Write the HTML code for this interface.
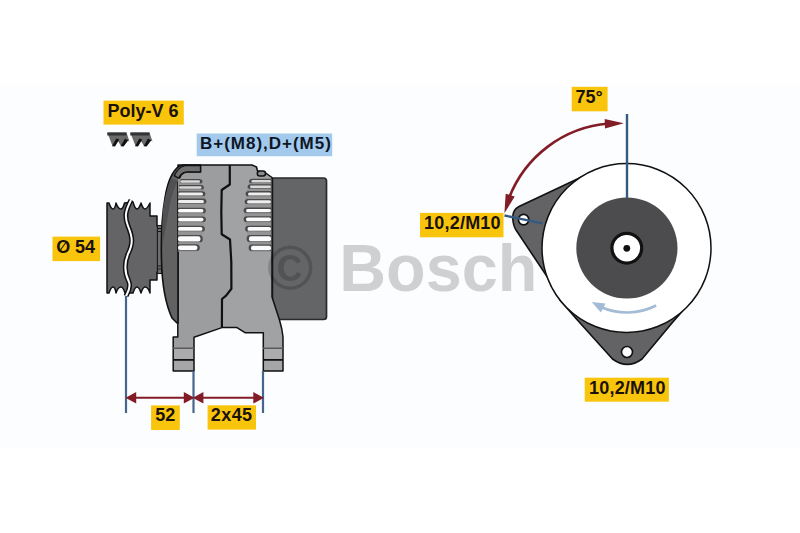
<!DOCTYPE html>
<html><head><meta charset="utf-8">
<style>
html,body{margin:0;padding:0;background:#fff;}
body{width:800px;height:533px;overflow:hidden;position:relative;}
svg{position:absolute;left:0;top:0;display:block;}
text{font-family:"Liberation Sans",sans-serif;font-weight:bold;}
</style></head>
<body>
<svg width="800" height="533" viewBox="0 0 800 533">
<rect x="0" y="0" width="800" height="533" fill="#ffffff"/>
<rect x="0" y="85" width="800" height="363" fill="#fcfdfe"/>

<!-- ===== LEFT VIEW ===== -->
<!-- pulley -->
<path d="M107,203 L109,203 Q111,209 113,209 Q115,209 116,203 Q118,209 121,209 Q123,209 124.5,203 L133,202 Q135,209 137,209 Q139,209 141,203 Q143,209 145,209 Q147,209 150,203 L150,216 L157,216 L157,226 L161,226 L161,272 L157,272 L157,280 L150,280 L150,293 Q148,287 145,287 Q143,287 141,293 Q139,287 137,287 Q135,287 133,293 L125,293 Q123,287 121,287 Q118,287 116,293 Q115,287 113,287 Q111,287 109,293 L107,293 Z" fill="#646466" stroke="#111" stroke-width="1.5" stroke-linejoin="round"/>
<path d="M131,200 C126,210 124,216 128,226 C133,238 133,244 128,254 C124,264 124,272 129,282 C131,288 128,292 126,296" fill="none" stroke="#111" stroke-width="5"/>
<path d="M131,200 C126,210 124,216 128,226 C133,238 133,244 128,254 C124,264 124,272 129,282 C131,288 128,292 126,296" fill="none" stroke="#fff" stroke-width="2"/>

<rect x="157.4" y="225.5" width="4.4" height="48" fill="#6e6e70" stroke="#1a1a1a" stroke-width="1.1"/>
<path d="M157.4,228.5 L161.8,228.5 M157.4,231.5 L161.8,231.5 M157.4,266 L161.8,266 M157.4,269 L161.8,269" stroke="#1a1a1a" stroke-width="1.2"/>
<!-- rear cover -->
<path d="M272.5,178 L323.5,178 Q326.5,178 326.5,181 L326.5,316.5 Q326.5,319.5 323.5,319.5 L272.5,319.5 Z" fill="#646567" stroke="#2a2a2a" stroke-width="1.7"/>


<!-- main body -->
<path d="M178,165 L252,165 L256.5,167 L257.5,171 L265,172.5 L272,177.5 L272,297 L279.5,320 L281.8,329 L283,337 L283,371 L263.3,371 L263.3,332.7 L245,332.7 L237,327.6 L221.9,327.6 L194,337.3 L194,371 L173.2,371 L173.2,337 L177.8,337 L177.8,323 Z" fill="#9c9d9f"/>
<path d="M229.8,165 L252,165 L256.5,167 L257.5,171 L265,172.5 L272,177.5 L272,297 L279.5,320 L281.8,329 L283,337 L283,371 L263.3,371 L263.3,332.7 L245,332.7 L237,327.6 L221.9,327.6 L222,299 L226.1,295.6 L231.4,288.8 L231.3,262 L230,239.5 L221.7,234.3 L221.3,212 L221.7,190 L229.8,184.5 Z" fill="#a1a2a4"/>
<path d="M173.2,349 h20.8 v10.5 h-20.8 Z M263.3,349 h19.7 v10.5 h-19.7 Z" fill="#acacae"/>
<path d="M173.2,360.5 h20.8 v10 h-20.8 Z M263.3,360.5 h19.7 v10 h-19.7 Z" fill="#a6a6a8"/>
<path d="M178,165 L252,165 L256.5,167 L257.5,171 L265,172.5 L272,177.5 L272,297 L279.5,320 L281.8,329 L283,337 L283,371 L263.3,371 L263.3,332.7 L245,332.7 L237,327.6 L221.9,327.6 L194,337.3 L194,371 L173.2,371 L173.2,337 L177.8,337 L177.8,323 Z" fill="none" stroke="#111" stroke-width="1.5" stroke-linejoin="round"/>
<!-- front housing -->
<path d="M183,165 C175,166 168,178 165,198 C162,215 161,240 161.5,260 C162,285 166,305 172,318 L177,323 L178,323 L178,183 C179.5,176 183,172 187,172 L200.5,172 L200.5,165 Z" fill="#626263" stroke="#111" stroke-width="1.6" stroke-linejoin="round"/>
<path d="M171,178.5 C168,186 164.5,198 163,210 C162.2,222 162,235 162.3,246 C164,236 166.5,224 168.5,212 C170.5,200 173.5,189 177.5,181 Z" fill="#505052"/>
<path d="M185,165.6 L200.5,165.6 L200.5,171.9 L187,171.9 C183.5,171.9 180.5,174.2 178.6,178.2 L174.3,175.6 C177,169.6 181,166.4 185,165.6 Z" fill="#6f6f70" stroke="#111" stroke-width="1.3" stroke-linejoin="round"/>
<path d="M178.0,178.8 L201.5,179.5 L203.0,185.5 L204.5,192.0 L205.5,199.5 L205.0,208.8 L205.0,217.6 L204.0,226.9 L201.9,236.9 L198.9,245.8 L198.9,251.2 L178.0,251.2 Z" fill="#949496"/>
<path d="M271.3,178.8 L250.0,179.3 L248.5,184.8 L246.5,191.9 L245.5,199.8 L244.5,208.6 L244.5,217.4 L246.0,226.9 L247.5,236.7 L249.5,246.0 L249.5,251.5 L271.3,251.5 Z" fill="#949496"/>
<path d="M180.5,179.0 L199,179.0 Q202.4,179.0 202.4,181.5 Q202.4,183.6 199,183.6 L180.5,183.6 Z" fill="#4a4a4a"/>
<rect x="180.5" y="180.30" width="19.5" height="2.4" rx="1.2" fill="#d8d8d8"/>
<rect x="180.5" y="183.10" width="19.5" height="1" fill="#8f8f8f"/>
<path d="M179,184.89999999999998 L200.5,184.89999999999998 Q203.9,184.89999999999998 203.9,187.5 Q203.9,189.70000000000002 200.5,189.70000000000002 L179,189.70000000000002 Z" fill="#4a4a4a"/>
<rect x="179" y="186.20" width="22.5" height="2.6" rx="1.3" fill="#d8d8d8"/>
<rect x="179" y="189.20" width="22.5" height="1" fill="#8f8f8f"/>
<path d="M178.5,191.2 L202,191.2 Q205.4,191.2 205.4,194.0 Q205.4,196.4 202,196.4 L178.5,196.4 Z" fill="#4a4a4a"/>
<rect x="178.5" y="192.50" width="24.5" height="3.0" rx="1.5" fill="#eeeeee"/>
<rect x="178.5" y="195.90" width="24.5" height="1" fill="#8f8f8f"/>
<path d="M178,198.6 L203,198.6 Q206.4,198.6 206.4,201.5 Q206.4,204.0 203,204.0 L178,204.0 Z" fill="#4a4a4a"/>
<rect x="178" y="199.90" width="26" height="3.2" rx="1.6" fill="#eeeeee"/>
<rect x="178" y="203.50" width="26" height="1" fill="#8f8f8f"/>
<path d="M178,207.8 L202.5,207.8 Q205.9,207.8 205.9,210.8 Q205.9,213.4 202.5,213.4 L178,213.4 Z" fill="#4a4a4a"/>
<rect x="178" y="209.10" width="25.5" height="3.4" rx="1.7" fill="#fcfcfc"/>
<rect x="178" y="212.90" width="25.5" height="1" fill="#8f8f8f"/>
<path d="M178,216.49999999999997 L202.5,216.49999999999997 Q205.9,216.49999999999997 205.9,219.6 Q205.9,222.3 202.5,222.3 L178,222.3 Z" fill="#4a4a4a"/>
<rect x="178" y="217.80" width="25.5" height="3.6" rx="1.8" fill="#fcfcfc"/>
<rect x="178" y="221.80" width="25.5" height="1" fill="#8f8f8f"/>
<path d="M178,225.7 L201.5,225.7 Q204.9,225.7 204.9,228.9 Q204.9,231.70000000000002 201.5,231.70000000000002 L178,231.70000000000002 Z" fill="#4a4a4a"/>
<rect x="178" y="227.00" width="24.5" height="3.8" rx="1.9" fill="#fcfcfc"/>
<rect x="178" y="231.20" width="24.5" height="1" fill="#8f8f8f"/>
<path d="M178,235.0 L199.4,235.0 Q202.8,235.0 202.8,238.9 Q202.8,242.4 199.4,242.4 L178,242.4 Z" fill="#4a4a4a"/>
<rect x="178" y="236.30" width="22.400000000000006" height="5.2" rx="2" fill="#fcfcfc"/>
<rect x="178" y="241.90" width="22.400000000000006" height="1" fill="#8f8f8f"/>
<path d="M178,244.2 L196.4,244.2 Q199.8,244.2 199.8,247.8 Q199.8,251.00000000000003 196.4,251.00000000000003 L178,251.00000000000003 Z" fill="#4a4a4a"/>
<rect x="178" y="245.50" width="19.400000000000006" height="4.6" rx="2" fill="#fcfcfc"/>
<rect x="178" y="250.50" width="19.400000000000006" height="1" fill="#8f8f8f"/>
<path d="M271,178.8 L252.5,178.8 Q249.1,178.8 249.1,181.3 Q249.1,183.4 252.5,183.4 L271,183.4 Z" fill="#4a4a4a"/>
<rect x="251.5" y="180.10" width="19.5" height="2.4" rx="1.2" fill="#d8d8d8"/>
<rect x="251.5" y="182.90" width="19.5" height="1" fill="#8f8f8f"/>
<path d="M271,184.2 L251,184.2 Q247.6,184.2 247.6,186.8 Q247.6,189.00000000000003 251,189.00000000000003 L271,189.00000000000003 Z" fill="#4a4a4a"/>
<rect x="250" y="185.50" width="21" height="2.6" rx="1.3" fill="#d8d8d8"/>
<rect x="250" y="188.50" width="21" height="1" fill="#8f8f8f"/>
<path d="M271,191.1 L249,191.1 Q245.6,191.1 245.6,193.9 Q245.6,196.3 249,196.3 L271,196.3 Z" fill="#4a4a4a"/>
<rect x="248" y="192.40" width="23" height="3.0" rx="1.5" fill="#eeeeee"/>
<rect x="248" y="195.80" width="23" height="1" fill="#8f8f8f"/>
<path d="M271,198.9 L248,198.9 Q244.6,198.9 244.6,201.8 Q244.6,204.3 248,204.3 L271,204.3 Z" fill="#4a4a4a"/>
<rect x="247" y="200.20" width="24" height="3.2" rx="1.6" fill="#eeeeee"/>
<rect x="247" y="203.80" width="24" height="1" fill="#8f8f8f"/>
<path d="M271,207.6 L247,207.6 Q243.6,207.6 243.6,210.6 Q243.6,213.2 247,213.2 L271,213.2 Z" fill="#4a4a4a"/>
<rect x="246" y="208.90" width="25" height="3.4" rx="1.7" fill="#fcfcfc"/>
<rect x="246" y="212.70" width="25" height="1" fill="#8f8f8f"/>
<path d="M271,216.29999999999998 L247,216.29999999999998 Q243.6,216.29999999999998 243.6,219.4 Q243.6,222.10000000000002 247,222.10000000000002 L271,222.10000000000002 Z" fill="#4a4a4a"/>
<rect x="246" y="217.60" width="25" height="3.6" rx="1.8" fill="#fcfcfc"/>
<rect x="246" y="221.60" width="25" height="1" fill="#8f8f8f"/>
<path d="M271,225.7 L248.5,225.7 Q245.1,225.7 245.1,228.9 Q245.1,231.70000000000002 248.5,231.70000000000002 L271,231.70000000000002 Z" fill="#4a4a4a"/>
<rect x="247.5" y="227.00" width="23.5" height="3.8" rx="1.9" fill="#fcfcfc"/>
<rect x="247.5" y="231.20" width="23.5" height="1" fill="#8f8f8f"/>
<path d="M271,234.89999999999998 L250,234.89999999999998 Q246.6,234.89999999999998 246.6,238.7 Q246.6,242.1 250,242.1 L271,242.1 Z" fill="#4a4a4a"/>
<rect x="249" y="236.20" width="22" height="5.0" rx="2" fill="#fcfcfc"/>
<rect x="249" y="241.60" width="22" height="1" fill="#8f8f8f"/>
<path d="M271,244.5 L252,244.5 Q248.6,244.5 248.6,248.0 Q248.6,251.1 252,251.1 L271,251.1 Z" fill="#4a4a4a"/>
<rect x="251" y="245.80" width="20" height="4.4" rx="2" fill="#fcfcfc"/>
<rect x="251" y="250.60" width="20" height="1" fill="#8f8f8f"/>
<rect x="257.3" y="171" width="8.2" height="5" rx="2.5" fill="#8c8c8c" stroke="#111" stroke-width="1.5"/>
<path d="M229.8,165 L229.8,184.5 L221.7,190 L221.3,212 L221.7,234.3 L230,239.5 L231.3,262 L231.4,288.8 L226.1,295.6 L222,299 L221.9,327.6" fill="none" stroke="#111" stroke-width="2.2" stroke-linejoin="round"/>
<path d="M173,348.3 L194,348.3 M263,348.3 L283,348.3" stroke="#5a5a5a" stroke-width="1.5"/>
<path d="M173,359.8 L194,359.8 M263,359.8 L283,359.8" stroke="#111" stroke-width="1.8"/>

<!-- dimension lines -->
<g stroke="#46668c" stroke-width="2.2">
<line x1="126" y1="296" x2="126" y2="413"/>
<line x1="193.5" y1="371" x2="193.5" y2="413"/>
<line x1="263" y1="371" x2="263" y2="413"/>
</g>
<g stroke="#821c26" stroke-width="2" fill="#821c26">
<line x1="132" y1="397.8" x2="188" y2="397.8"/>
<line x1="200" y1="397.8" x2="257" y2="397.8"/>
<path d="M127.5,397.8 L135.2,393.7 L135.2,401.9 Z"/>
<path d="M192.5,397.8 L184.8,393.7 L184.8,401.9 Z"/>
<path d="M194.7,397.8 L202.4,393.7 L202.4,401.9 Z"/>
<path d="M262,397.8 L254.3,393.7 L254.3,401.9 Z"/>
</g>

<!-- belt icon -->
<g>
<path d="M107.3,132.5 L126.5,132.5 L129.5,141.5 L126,139.5 L121,146 L117,139.5 L112.5,146 Z" fill="#6a6a6a"/>
<rect x="107.3" y="132.5" width="19.2" height="3" fill="#333"/>
<path d="M112,146.2 L116.3,138.6 L119.3,139.6 L115,146.4 Z M120.6,146.2 L125,138.6 L128.3,140.2 L123.6,146.4 Z" fill="#111"/>
</g>
<g transform="translate(23,0)">
<path d="M107.3,132.5 L126.5,132.5 L129.5,141.5 L126,139.5 L121,146 L117,139.5 L112.5,146 Z" fill="#6a6a6a"/>
<rect x="107.3" y="132.5" width="19.2" height="3" fill="#333"/>
<path d="M112,146.2 L116.3,138.6 L119.3,139.6 L115,146.4 Z M120.6,146.2 L125,138.6 L128.3,140.2 L123.6,146.4 Z" fill="#111"/>
</g>

<!-- ===== RIGHT VIEW ===== -->
<path d="M588,174 L519,206.5 Q512,210 512.8,219 Q513.3,226 516,230 L552,284 L626.5,248 Z" fill="#636365" stroke="#111" stroke-width="1.6" stroke-linejoin="round"/>
<path d="M560,300 L576,318.5 L612.5,359 Q627.4,369.8 642,359 L672,323 L686,307 L626.5,248 Z" fill="#636365" stroke="#111" stroke-width="1.6" stroke-linejoin="round"/>
<circle cx="523.6" cy="219.6" r="5.2" fill="#fff" stroke="#111" stroke-width="1.7"/>
<circle cx="627" cy="352" r="5.5" fill="#fff" stroke="#111" stroke-width="1.6"/>
<circle cx="626.5" cy="248" r="84.5" fill="#fff" stroke="#111" stroke-width="1.5"/>
<circle cx="626.9" cy="248" r="50.6" fill="#4c4c4e"/>
<circle cx="626.8" cy="248.2" r="14.9" fill="#fff" stroke="#111" stroke-width="3.2"/>
<circle cx="626.8" cy="248.3" r="3.4" fill="#111"/>
<line x1="627" y1="114" x2="627" y2="198" stroke="#355a82" stroke-width="2.4"/>
<line x1="504.5" y1="215.5" x2="542.7" y2="223.4" stroke="#355a82" stroke-width="2.4"/>
<path d="M656.1,305.5 A64.5,64.5 0 0 1 600.8,307.0" fill="none" stroke="#a3bcd5" stroke-width="2.7"/>
<path d="M591.7,302.1 L605.5,303.6 L600.9,312.5 Z" fill="#a3bcd5"/>
<path d="M608.6,123.5 A116.8,116.8 0 0 0 508.8,198.6" fill="none" stroke="#821c26" stroke-width="2.6"/>
<path d="M623.8,123.2 L605.0,128.6 L604.7,119.1 Z" fill="#821c26"/>
<path d="M504.4,213.2 L505.7,193.7 L514.7,196.6 Z" fill="#821c26"/>

<!-- watermark -->
<text transform="translate(339.2,291) scale(0.968,1)" font-size="67" fill="rgba(0,0,0,0.175)">Bosch</text>
<text x="267.1" y="289.5" font-size="63" fill="rgba(0,0,0,0.175)">©</text>

<!-- labels -->
<g fill="#1a1208" font-size="18">
<rect x="103.5" y="100.6" width="80.3" height="24" fill="#f9c50c"/>
<text x="107.4" y="116.9">Poly-V 6</text>
<rect x="196.7" y="133.5" width="135.5" height="22.7" fill="#a3caec"/>
<text x="200" y="148.6" textLength="130.8" lengthAdjust="spacing" font-size="17" fill="#0d1726">B+(M8),D+(M5)</text>
<rect x="571.7" y="86.8" width="35.9" height="24.5" fill="#f9c50c"/>
<text x="575.5" y="103">75°</text>
<rect x="420" y="212.9" width="83.5" height="24.4" fill="#f9c50c"/>
<text x="424.1" y="229" textLength="76.5" lengthAdjust="spacing">10,2/M10</text>
<rect x="584.7" y="377.7" width="84.2" height="24" fill="#f9c50c"/>
<text x="589.1" y="393.6" textLength="76.3" lengthAdjust="spacing">10,2/M10</text>
<rect x="52.5" y="236.6" width="47.6" height="24.5" fill="#f9c50c"/>
<text x="75.0" y="252.7">54</text>
<text x="56.3" y="252.7">O</text><path d="M60.3,250.3 L66.2,242" stroke="#141414" stroke-width="1.1"/>
<rect x="151.1" y="405.4" width="28.7" height="24.6" fill="#f9c50c"/>
<text x="155.2" y="421.4">52</text>
<rect x="207.6" y="405.3" width="48.4" height="24.3" fill="#f9c50c"/>
<text x="210.8" y="421.4" textLength="41.3" lengthAdjust="spacing">2x45</text>
</g>
</svg>
</body></html>
